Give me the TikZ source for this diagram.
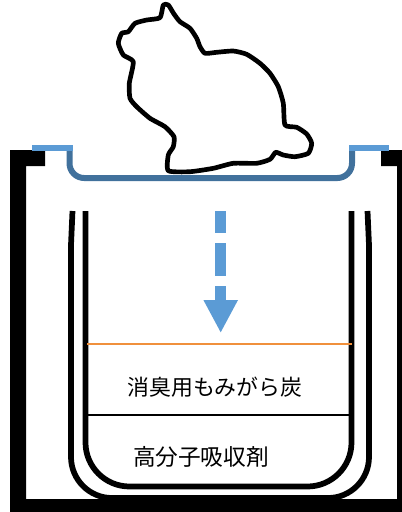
\documentclass[tikz,border=0pt]{standalone}
\usepackage{fontspec}
\usetikzlibrary{arrows.meta}
\newfontfamily\cjk{Noto Sans CJK JP}
\definecolor{traydark}{HTML}{41719C}
\definecolor{traylight}{HTML}{5B9BD5}
\definecolor{layerorange}{HTML}{F0903C}
\tikzset{
  catline/.style={line width=3.5pt,line join=round},
  bucketline/.style={line width=4.3pt},
  trayline/.style={traydark,line width=4.5pt},
  flangeline/.style={traylight,line width=4pt},
  layerlabel/.style={font=\cjk\fontsize{16.4}{20}\selectfont,inner sep=0pt}
}

\begin{document}
\begin{tikzpicture}[x=0.75pt,y=-0.75pt]
\useasboundingbox (0,0) rectangle (402,512);
% outer box
\fill (10,150)--(45,150)--(45,166)--(26,166)--(26,499)--(397,499)--(397,166)--(381,166)
  --(381,150)--(402,150)--(402,512)--(10,512)--cycle;
% double wall of the container
\draw[bucketline] (72.5,211)--(71,245)--(71,457) .. controls (71,479.6) and (89.4,498) .. (112,498)
  --(328,498) .. controls (350.6,498) and (369,479.6) .. (369,457)--(369,245)--(367.5,211);
\draw[bucketline,rounded corners=33pt] (85.5,211)--(85.5,486.5)--(351.5,486.5)--(351.5,211);
% tray with its flanges
\draw[trayline,rounded corners=11pt] (69.5,147)--(69.5,178)--(352,178)--(352,147);
\draw[flangeline] (32,148)--(72.5,148);
\draw[flangeline] (349,148)--(389,148);
% cat on the tray
\draw[catline] plot[smooth cycle,tension=0.35] coordinates {
  (163.3,5) (168.3,5) (174,14) (180,21.7) (190,28.3) (196.7,38.3) (200,46.7) (205,53.3)
  (216.7,52.3) (233.3,51) (246.7,54.3) (260,63.3) (270,73.3) (278.3,86.7) (283.3,103.3)
  (285,125) (296.7,127.3) (306.7,134) (311.7,143.3) (308.3,153.3) (295,156.7) (283.3,155)
  (275.7,152.3) (270,159.3) (256.7,163.3) (233.3,163.3) (213.3,168.3) (190,171.7)
  (168.3,170.7) (168.3,155) (173.3,146.7) (174,136.7) (165,126.7) (150,118.3) (136.7,106.7)
  (130,98.3) (129.3,83.3) (133.3,61.7) (123.3,55) (118.3,43.3) (121.7,33.3) (128.3,31.7)
  (135,23.3) (146.7,20) (160,17.7)};
% downward flow
\coordinate (flowtop) at (220.7,211);
\coordinate (flowend) at (220.7,333);
\draw[traylight,line width=8pt,dash pattern=on 24.75pt off 7.5pt,dash phase=8.25pt,
  -{Triangle[length=24.75pt,width=24pt]}] (flowtop)--(flowend);
% layers
\draw[layerorange,line width=1.3pt] (87,343.7)--(352,343.7);
\draw[line width=0.9pt] (88,415)--(349,415);
\node[layerlabel] (charcoal) at (215,387) {消臭用もみがら炭};
\node[layerlabel,font=\cjk\fontsize{17}{20}\selectfont] (polymer) at (201,457) {高分子吸収剤};
\end{tikzpicture}
\end{document}
